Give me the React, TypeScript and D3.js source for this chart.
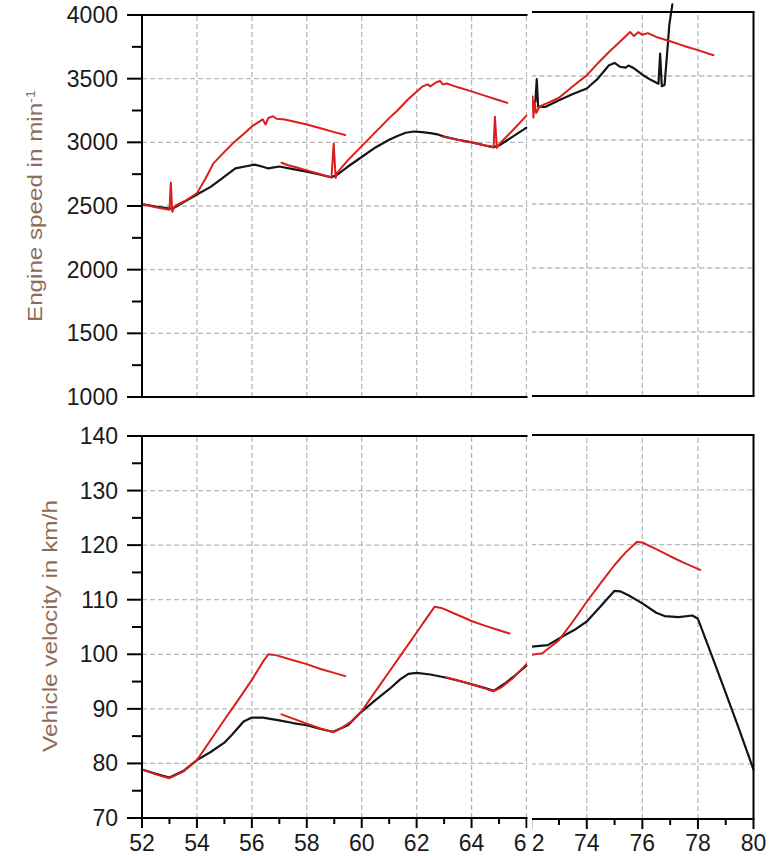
import React from "react";
import * as d3 from "d3";

type Pt = [number, number];

// ---------- ticks ----------
const leftXTicks = [52, 54, 56, 58, 60, 62, 64, 66];
const leftXMinor = [53, 55, 57, 59, 61, 63, 65];
const rightXTicks = [72, 74, 76, 78, 80];
const rightXMinor = [73, 75, 77, 79];
const rpmTicks = [1000, 1500, 2000, 2500, 3000, 3500, 4000];
const rpmMinor = [1250, 1750, 2250, 2750, 3250, 3750];
const velTicks = [70, 80, 90, 100, 110, 120, 130, 140];
const velMinor = [75, 85, 95, 105, 115, 125, 135];
// labels cut by the break of the axis (only the visible part is shown)
const cutLeftLabel = "6";
const cutRightLabel = "2";

// ---------- engine speed (min^-1) ----------
const rpmBlackLeft: Pt[] = [
  [52.0, 2515], [52.5, 2495], [53.0, 2480], [53.2, 2490], [53.6, 2540], [54.0, 2590],
  [54.5, 2650], [55.0, 2730], [55.4, 2795], [55.8, 2812], [56.1, 2825], [56.4, 2808],
  [56.6, 2795], [57.0, 2810], [57.5, 2790], [58.0, 2770], [58.5, 2745], [58.9, 2725],
  [59.1, 2745], [59.5, 2810], [60.0, 2885], [60.5, 2960], [61.0, 3020], [61.3, 3050],
  [61.6, 3075], [61.9, 3085], [62.2, 3080], [62.5, 3072], [62.8, 3060], [63.0, 3045],
  [63.5, 3020], [64.0, 3000], [64.5, 2975], [64.8, 2962], [65.0, 2975], [65.5, 3045], [66.0, 3115],
];
const rpmRedLeftA: Pt[] = [
  [52.0, 2515], [52.5, 2490], [53.0, 2470], [53.05, 2685], [53.1, 2455], [53.2, 2500],
  [53.6, 2545], [54.0, 2600], [54.3, 2710], [54.6, 2835], [55.0, 2925], [55.3, 2990],
  [55.7, 3065], [56.0, 3125], [56.4, 3180], [56.5, 3140], [56.6, 3192], [56.77, 3205],
  [56.9, 3185], [57.2, 3180], [57.6, 3160], [58.0, 3140], [58.5, 3110], [59.0, 3080], [59.4, 3058],
];
const rpmRedLeftB: Pt[] = [
  [57.08, 2840], [57.3, 2822], [57.7, 2798], [58.0, 2780], [58.4, 2755], [58.9, 2725],
  [58.98, 2990], [59.05, 2720], [59.1, 2760], [59.5, 2860], [60.0, 2970], [60.5, 3080],
  [61.0, 3190], [61.3, 3250], [61.7, 3340], [62.2, 3437], [62.4, 3455], [62.5, 3440],
  [62.7, 3470], [62.85, 3482], [62.95, 3455], [63.1, 3462], [63.5, 3432], [64.0, 3400],
  [64.5, 3365], [65.0, 3330], [65.3, 3310],
];
const rpmRedLeftC: Pt[] = [
  [62.96, 3045], [63.5, 3020], [64.0, 3000], [64.5, 2975], [64.8, 2960], [64.85, 3200],
  [64.92, 2955], [65.0, 2985], [65.5, 3095], [66.0, 3210],
];
const rpmBlackRight: Pt[] = [
  [72.0, 3290], [72.15, 3300], [72.2, 3475], [72.25, 3260], [72.5, 3258], [73.0, 3310],
  [73.5, 3360], [74.0, 3402], [74.4, 3480], [74.8, 3584], [75.0, 3602], [75.2, 3572],
  [75.4, 3565], [75.5, 3582], [75.7, 3560], [76.0, 3510], [76.3, 3470], [76.58, 3440],
  [76.64, 3675], [76.7, 3420], [76.8, 3430], [76.9, 3700], [76.97, 3900], [77.08, 4060],
];
const rpmRedRight: Pt[] = [
  [72.0, 3250], [72.05, 3340], [72.08, 3175], [72.12, 3300], [72.18, 3210], [72.3, 3262],
  [72.6, 3290], [73.0, 3330], [73.5, 3420], [74.0, 3505], [74.4, 3600], [74.8, 3688],
  [75.2, 3770], [75.56, 3844], [75.7, 3812], [75.85, 3842], [76.0, 3822], [76.2, 3835],
  [76.5, 3805], [77.0, 3772], [77.5, 3735], [78.0, 3702], [78.56, 3662],
];

// ---------- vehicle velocity (km/h) ----------
const velBlackLeft: Pt[] = [
  [52.0, 78.9], [52.5, 78.1], [53.0, 77.4], [53.5, 78.6], [54.0, 80.6], [54.5, 82.1],
  [55.0, 83.8], [55.3, 85.4], [55.7, 87.7], [56.0, 88.4], [56.4, 88.4], [57.0, 87.9],
  [57.5, 87.4], [58.0, 87.0], [58.5, 86.3], [58.96, 85.8], [59.5, 87.0], [60.0, 89.5],
  [60.5, 91.6], [61.0, 93.6], [61.4, 95.4], [61.7, 96.4], [62.0, 96.6], [62.5, 96.3],
  [63.0, 95.8], [63.5, 95.2], [64.0, 94.5], [64.5, 93.8], [64.8, 93.3], [65.2, 94.6],
  [65.6, 96.2], [66.0, 97.9],
];
const velRedLeftA: Pt[] = [
  [52.0, 78.9], [52.5, 78.0], [53.0, 77.3], [53.5, 78.5], [54.0, 80.6], [54.5, 84.3],
  [55.0, 88.0], [55.5, 91.6], [56.0, 95.3], [56.4, 98.6], [56.6, 100.0], [56.9, 99.8],
  [57.5, 98.9], [58.0, 98.2], [58.5, 97.3], [59.0, 96.6], [59.4, 96.0],
];
const velRedLeftB: Pt[] = [
  [57.08, 89.0], [57.5, 88.2], [58.0, 87.3], [58.5, 86.4], [58.96, 85.7], [59.3, 86.6],
  [59.6, 87.6], [60.0, 89.6], [60.5, 93.2], [61.0, 96.8], [61.5, 100.4], [62.0, 104.0],
  [62.4, 106.9], [62.65, 108.7], [62.9, 108.5], [63.5, 107.2], [64.0, 106.1], [64.5, 105.2],
  [65.0, 104.4], [65.38, 103.8],
];
const velRedLeftC: Pt[] = [
  [63.07, 95.8], [63.5, 95.2], [64.0, 94.5], [64.5, 93.7], [64.8, 93.2], [65.1, 94.0],
  [65.5, 95.6], [66.0, 98.2],
];
const velBlackRight: Pt[] = [
  [72.0, 101.4], [72.6, 101.7], [73.2, 103.5], [73.6, 104.6], [74.0, 106.0], [74.5, 108.8],
  [75.0, 111.6], [75.2, 111.5], [75.5, 110.8], [76.0, 109.3], [76.5, 107.6], [76.8, 107.0],
  [77.3, 106.8], [77.8, 107.1], [78.0, 106.5], [78.5, 99.8], [79.0, 93.0], [79.5, 86.1], [80.0, 79.0],
];
const velRedRight: Pt[] = [
  [72.0, 99.9], [72.4, 100.2], [73.0, 102.6], [73.5, 106.0], [74.0, 109.6], [74.5, 113.0],
  [75.0, 116.3], [75.4, 118.6], [75.8, 120.5], [76.0, 120.4], [76.5, 119.2], [77.0, 117.9],
  [77.5, 116.7], [78.08, 115.4],
];

const W = 776;
const H = 856;
const FONT = "'Liberation Sans', Arial, Helvetica, sans-serif";
const RED = "#d81e1e";
const BLACK = "#151515";
const GRID = "#b9b9b9";
const TITLE = "#8f6b58";

const xL = d3.scaleLinear().domain([52, 66]).range([142, 526.5]);
const xR = d3.scaleLinear().domain([72, 80]).range([531.2, 753.5]);
const yTopL = d3.scaleLinear().domain([1000, 4000]).range([397, 15]);
const yTopR = d3.scaleLinear().domain([1000, 4000]).range([396, 12]);
const yBotL = d3.scaleLinear().domain([70, 140]).range([818, 436]);
const yBotR = d3.scaleLinear().domain([70, 140]).range([819, 435]);

type Scale = d3.ScaleLinear<number, number>;

function pathOf(data: Pt[], x: Scale, y: Scale) {
  return d3.line<Pt>().x((d) => x(d[0])).y((d) => y(d[1]))(data) || "";
}

function Grid({ x, y, xs, ys }: { x: Scale; y: Scale; xs: number[]; ys: number[] }) {
  const [x0, x1] = x.range();
  const [y0, y1] = y.range();
  return (
    <g stroke={GRID} strokeWidth={1.3} strokeDasharray="5,3" fill="none">
      {xs.map((v) => (
        <line key={"gx" + v} x1={x(v)} x2={x(v)} y1={y0} y2={y1} />
      ))}
      {ys.map((v) => (
        <line key={"gy" + v} x1={x0} x2={x1 + 2} y1={y(v)} y2={y(v)} />
      ))}
    </g>
  );
}

function Lines({ x, y, black, reds }: { x: Scale; y: Scale; black: Pt[]; reds: Pt[][] }) {
  return (
    <g fill="none" strokeLinejoin="round" strokeLinecap="round">
      <path d={pathOf(black, x, y)} stroke={BLACK} strokeWidth={2.2} />
      {reds.map((r, i) => (
        <path key={i} d={pathOf(r, x, y)} stroke={RED} strokeWidth={2} />
      ))}
    </g>
  );
}

export default function App() {
  const innerY = (arr: number[], s: Scale) => arr.filter((v) => v !== s.domain()[0] && v !== s.domain()[1]);
  return (
    <svg width={W} height={H} style={{ display: "block", position: "absolute", left: 0, top: 0, background: "#fff" }}>
      <defs>
        <clipPath id="clipL">
          <rect x={0} y={0} width={527.5} height={H} />
        </clipPath>
        <clipPath id="clipR">
          <rect x={532} y={0} width={W - 532} height={H} />
        </clipPath>
      </defs>
      <rect x={0} y={0} width={W} height={H} fill="#fff" />

      {/* ---------- LEFT PIECE ---------- */}
      <g clipPath="url(#clipL)">
        <Grid x={xL} y={yTopL} xs={leftXTicks.slice(1)} ys={innerY(rpmTicks, yTopL)} />
        <Grid x={xL} y={yBotL} xs={leftXTicks.slice(1)} ys={innerY(velTicks, yBotL)} />
        <Lines x={xL} y={yTopL} black={rpmBlackLeft} reds={[rpmRedLeftA, rpmRedLeftB, rpmRedLeftC]} />
        <Lines x={xL} y={yBotL} black={velBlackLeft} reds={[velRedLeftA, velRedLeftB, velRedLeftC]} />

        <g stroke="#000" strokeWidth={2} fill="none">
          <line x1={142} x2={530} y1={yTopL(4000)} y2={yTopL(4000)} />
          <line x1={142} x2={530} y1={yTopL(1000)} y2={yTopL(1000)} />
          <line x1={142} x2={142} y1={yTopL(4000)} y2={yTopL(1000)} />
          <line x1={142} x2={530} y1={yBotL(140)} y2={yBotL(140)} />
          <line x1={142} x2={530} y1={yBotL(70)} y2={yBotL(70)} />
          <line x1={142} x2={142} y1={yBotL(140)} y2={yBotL(70)} />
          {rpmTicks.map((v) => (
            <line key={"rt" + v} x1={127} x2={142} y1={yTopL(v)} y2={yTopL(v)} />
          ))}
          {rpmMinor.map((v) => (
            <line key={"rm" + v} x1={132} x2={142} y1={yTopL(v)} y2={yTopL(v)} />
          ))}
          {velTicks.map((v) => (
            <line key={"vt" + v} x1={127} x2={142} y1={yBotL(v)} y2={yBotL(v)} />
          ))}
          {velMinor.map((v) => (
            <line key={"vm" + v} x1={132} x2={142} y1={yBotL(v)} y2={yBotL(v)} />
          ))}
          {leftXTicks.map((v) => (
            <line key={"xt" + v} x1={xL(v)} x2={xL(v)} y1={yBotL(70)} y2={yBotL(70) + 10} />
          ))}
          {leftXMinor.map((v) => (
            <line key={"xm" + v} x1={xL(v)} x2={xL(v)} y1={yBotL(70)} y2={yBotL(70) + 6} />
          ))}
        </g>

        <g fontFamily={FONT} fontSize={23} fill="#1a1a1a">
          {rpmTicks.map((v) => (
            <text key={"rl" + v} x={118} y={yTopL(v)} textAnchor="end" dominantBaseline="central">
              {v}
            </text>
          ))}
          {velTicks.map((v) => (
            <text key={"vl" + v} x={118} y={yBotL(v)} textAnchor="end" dominantBaseline="central">
              {v}
            </text>
          ))}
          {leftXTicks.slice(0, -1).map((v) => (
            <text key={"xl" + v} x={xL(v)} y={851} textAnchor="middle">
              {v}
            </text>
          ))}
          <text x={xL(66)} y={851} textAnchor="end">
            {cutLeftLabel}
          </text>
        </g>

        <g fontFamily={FONT} fill={TITLE} fontSize={20}>
          <text transform="translate(42,206) rotate(-90)" textAnchor="middle" textLength={232} lengthAdjust="spacingAndGlyphs">
            Engine speed in min<tspan dy={-7} fontSize={12}>-1</tspan>
          </text>
          <text transform="translate(57,626) rotate(-90)" textAnchor="middle" textLength={252} lengthAdjust="spacingAndGlyphs">
            Vehicle velocity in km/h
          </text>
        </g>
      </g>

      {/* ---------- RIGHT PIECE ---------- */}
      <g clipPath="url(#clipR)">
        <Grid x={xR} y={yTopR} xs={[74, 76, 78]} ys={innerY(rpmTicks, yTopR)} />
        <Grid x={xR} y={yBotR} xs={[74, 76, 78]} ys={innerY(velTicks, yBotR)} />
        <Lines x={xR} y={yTopR} black={rpmBlackRight} reds={[rpmRedRight]} />
        <Lines x={xR} y={yBotR} black={velBlackRight} reds={[velRedRight]} />

        <g stroke="#000" strokeWidth={2} fill="none">
          <line x1={528} x2={754.5} y1={yTopR(4000)} y2={yTopR(4000)} />
          <line x1={528} x2={754.5} y1={yTopR(1000)} y2={yTopR(1000)} />
          <line x1={753.5} x2={753.5} y1={yTopR(4000)} y2={yTopR(1000)} />
          <line x1={528} x2={754.5} y1={yBotR(140)} y2={yBotR(140)} />
          <line x1={528} x2={754.5} y1={yBotR(70)} y2={yBotR(70)} />
          <line x1={753.5} x2={753.5} y1={yBotR(140)} y2={yBotR(70)} />
          {rightXTicks.map((v) => (
            <line key={"rxt" + v} x1={xR(v)} x2={xR(v)} y1={yBotR(70)} y2={yBotR(70) + 10} />
          ))}
          {rightXMinor.map((v) => (
            <line key={"rxm" + v} x1={xR(v)} x2={xR(v)} y1={yBotR(70)} y2={yBotR(70) + 6} />
          ))}
        </g>

        <g fontFamily={FONT} fontSize={23} fill="#1a1a1a">
          <text x={xR(72) + 0.5} y={851} textAnchor="start">
            {cutRightLabel}
          </text>
          {rightXTicks.slice(1).map((v) => (
            <text key={"rxl" + v} x={xR(v)} y={851} textAnchor="middle">
              {v}
            </text>
          ))}
        </g>
      </g>
    </svg>
  );
}
